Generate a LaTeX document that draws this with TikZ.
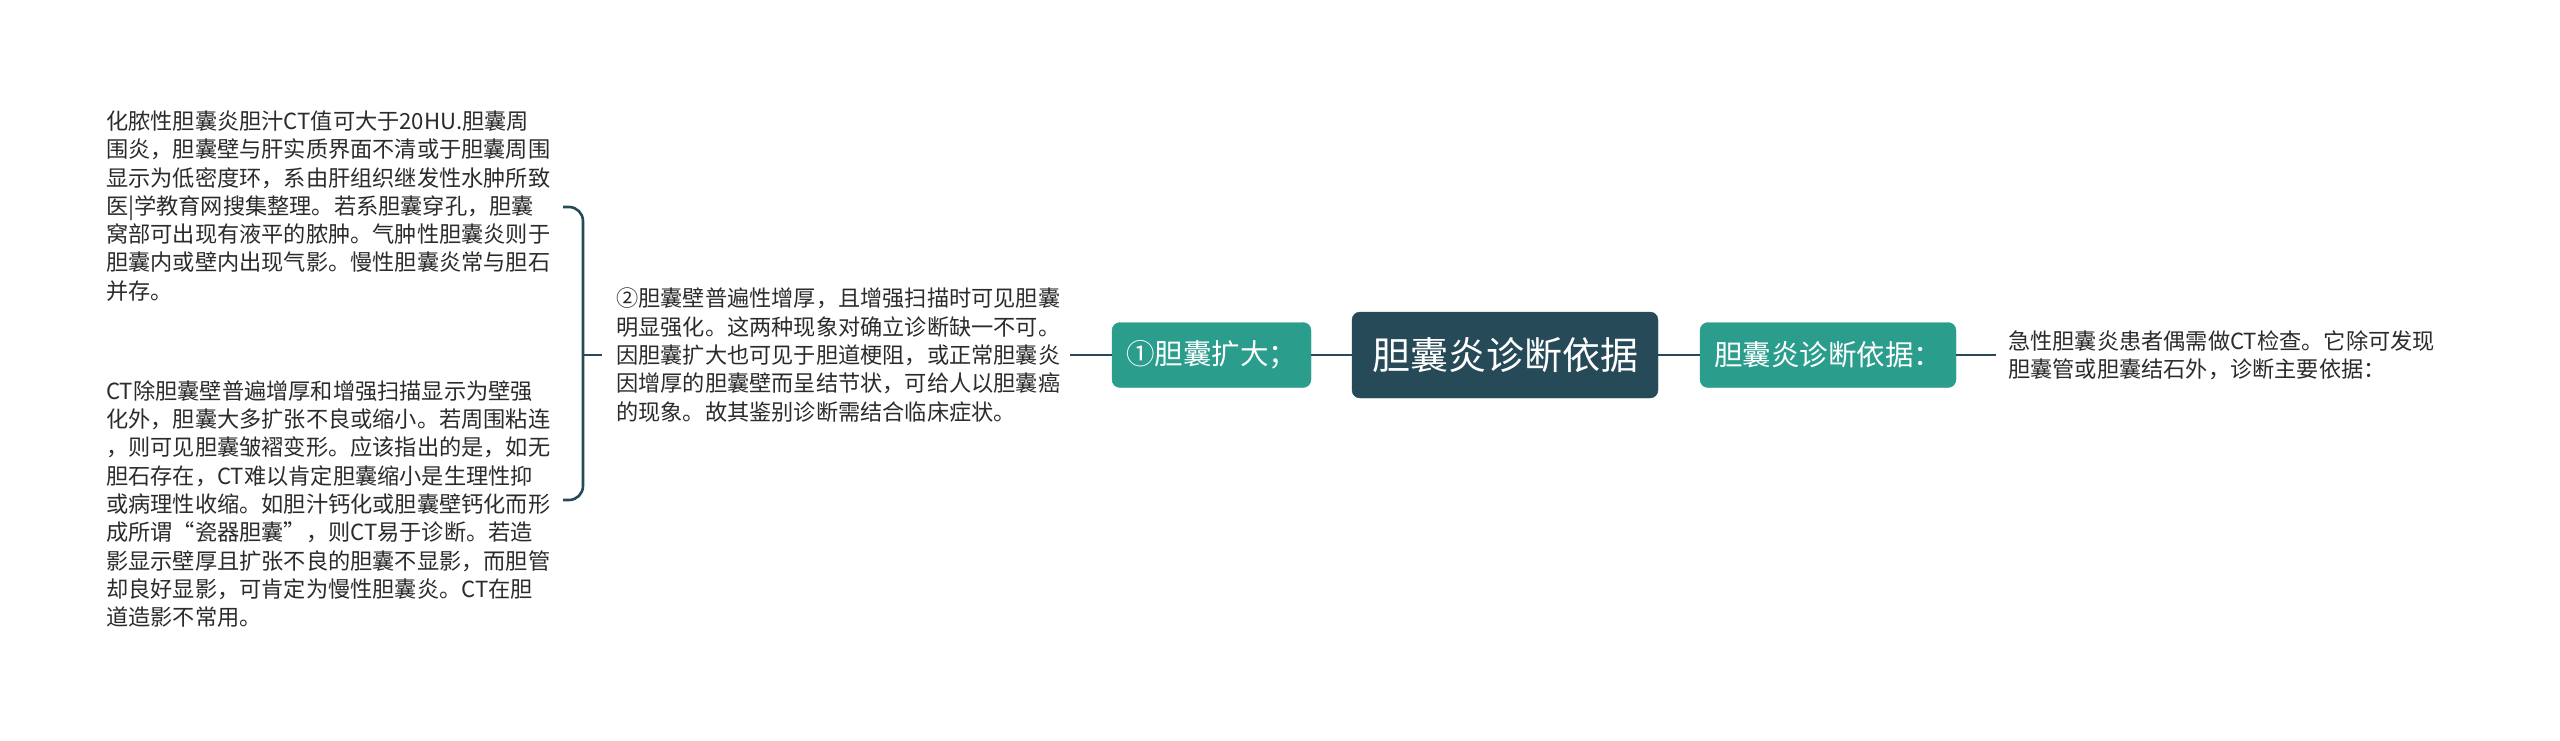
\documentclass[tikz,border=0pt]{standalone}
\usepackage{fontspec}
\setmainfont{Noto Sans CJK SC}
\definecolor{darkc}{HTML}{274A58}
\definecolor{tealc}{HTML}{2A9D8C}
\definecolor{txtc}{HTML}{2B2B2B}
\tikzset{
  rootbox/.style={draw=darkc, fill=darkc, rounded corners=8pt, text=white, minimum width=306pt, minimum height=86pt, inner sep=0pt, font=\fontsize{38}{42}\selectfont},
  tealbox/.style={draw=tealc, fill=tealc, rounded corners=8pt, text=white, minimum height=65pt, inner sep=0pt, font=\fontsize{28.5}{32}\selectfont},
  leaf/.style={anchor=west, align=left, inner sep=0pt, text=txtc, font=\fontsize{22.2}{28.3}\selectfont},
  conn/.style={draw=darkc, line width=2.6pt},
}
\begin{document}
\begin{tikzpicture}[x=1pt,y=-1pt]
\useasboundingbox (0,0) rectangle (2560,740);
\node[rootbox] (root) at (1505,355) {胆囊炎诊断依据};
\node[tealbox, minimum width=199pt] (b1) at (1211.5,355) {①胆囊扩大；};
\node[tealbox, minimum width=256pt] (b2) at (1828,355) {胆囊炎诊断依据：};
\node[leaf] (rt) at (2008,355) {急性胆囊炎患者偶需做CT检查。它除可发现\\胆囊管或胆囊结石外，诊断主要依据：};
\node[leaf] (t2) at (616,355) {②胆囊壁普遍性增厚，且增强扫描时可见胆囊\\明显强化。这两种现象对确立诊断缺一不可。\\因胆囊扩大也可见于胆道梗阻，或正常胆囊炎\\因增厚的胆囊壁而呈结节状，可给人以胆囊癌\\的现象。故其鉴别诊断需结合临床症状。};
\node[leaf] (L1) at (106,206) {化脓性胆囊炎胆汁CT值可大于20HU.胆囊周\\围炎，胆囊壁与肝实质界面不清或于胆囊周围\\显示为低密度环，系由肝组织继发性水肿所致\\医|学教育网搜集整理。若系胆囊穿孔，胆囊\\窝部可出现有液平的脓肿。气肿性胆囊炎则于\\胆囊内或壁内出现气影。慢性胆囊炎常与胆石\\并存。};
\node[leaf] (L2) at (106,504) {CT除胆囊壁普遍增厚和增强扫描显示为壁强\\化外，胆囊大多扩张不良或缩小。若周围粘连\\，则可见胆囊皱褶变形。应该指出的是，如无\\胆石存在，CT难以肯定胆囊缩小是生理性抑\\或病理性收缩。如胆汁钙化或胆囊壁钙化而形\\成所谓“瓷器胆囊”，则CT易于诊断。若造\\影显示壁厚且扩张不良的胆囊不显影，而胆管\\却良好显影，可肯定为慢性胆囊炎。CT在胆\\道造影不常用。};
\coordinate (t2r) at (1070,355);
\coordinate (rtl) at (1996,355);
\coordinate (brtop) at (563,207);
\coordinate (brbot) at (563,500);
\coordinate (brmid) at (583,355);
\coordinate (brstub) at (602,355);
\draw[conn] (root.west) -- (b1.east);
\draw[conn] (root.east) -- (b2.west);
\draw[conn] (b2.east) -- (rtl);
\draw[conn] (b1.west) -- (t2r);
\draw[conn] (brmid) -- (brstub);
\draw[conn, rounded corners=14pt] (brtop) -- (583,207) -- (583,500) -- (brbot);
\end{tikzpicture}
\end{document}
